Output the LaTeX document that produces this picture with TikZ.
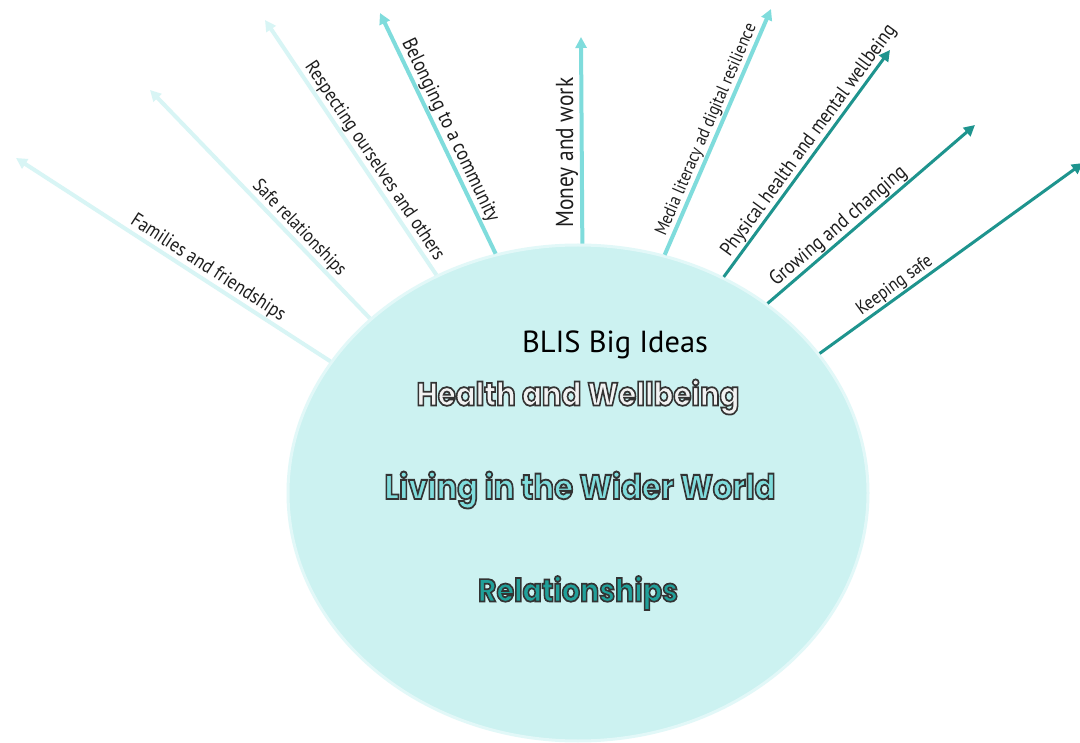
\documentclass[tikz,border=0pt]{standalone}
\usepackage{fontspec}
\setmainfont{PT Sans}
\newfontfamily\headfont{Poppins}
\usetikzlibrary{arrows.meta,shapes.geometric}

\definecolor{bubble}{HTML}{CCF2F1}
\definecolor{bubbleedge}{HTML}{E2F8F8}
\definecolor{pale}{HTML}{D8F5F5}
\definecolor{mid}{HTML}{7FDCDC}
\definecolor{deep}{HTML}{1E948E}
\definecolor{inkgray}{HTML}{1E1E1E}
\definecolor{healthfill}{HTML}{F2F2F2}
\definecolor{livingfill}{HTML}{7FDCDC}
\definecolor{relfill}{HTML}{20A09A}

% label text stretched to a given length along its arrow
\newcommand{\armlabel}[2]{\resizebox{#1pt}{!}{\scalebox{1}[1.15]{#2}}}
% outlined heading (fill plus dark stroke) of a given width
\newcommand{\heading}[3]{\resizebox{#1pt}{!}{\scalebox{1}[1.12]{\textcolor{#2}{\headfont\bfseries\fontsize{28}{32}\selectfont
  \special{pdf:literal direct 0.2 0.2 0.2 RG 1.5 w 2 Tr}#3\special{pdf:literal direct 0 Tr}}}}}

\begin{document}
\begin{tikzpicture}[x=1pt,y=-1pt,
  tip/.style={-{Triangle[length=11pt,width=11pt]}},
  palearm/.style={tip, draw=pale, line width=4pt},
  midarm/.style={tip, draw=mid, line width=4pt},
  deeparm/.style={tip, draw=deep, line width=3pt},
  lbl/.style={sloped, above, inner sep=0.8pt, text=inkgray}]

\useasboundingbox[fill=white] (0,0) rectangle (1080,743);

% central bubble
\node[ellipse, fill=bubble, draw=bubbleedge, line width=3pt,
      minimum width=580pt, minimum height=496pt, inner sep=0pt] (hub) at (578,493) {};

% arrow tips
\coordinate (t1) at (16,158);
\coordinate (t2) at (150,90);
\coordinate (t3) at (265,20);
\coordinate (t4) at (380,13);
\coordinate (t5) at (581,37);
\coordinate (t6) at (771,9);
\coordinate (t7) at (890,50);
\coordinate (t8) at (975,125);
\coordinate (t9) at (1083,163);

% radiating strands
\draw[palearm] (hub.152.9) -- node[lbl,pos=0.41] (l1) {\armlabel{180}{Families and friendships}} (t1);
\draw[palearm] (hub.140.5) -- node[lbl,pos=0.36] (l2) {\armlabel{126}{Safe relationships}} (t2);
\draw[palearm] (hub.123.8) -- node[lbl,pos=0.42] (l3) {\armlabel{235}{Respecting ourselves and others}} (t3);
\draw[midarm]  (hub.109.1) -- node[lbl,pos=0.49] (l4) {\armlabel{201}{Belonging to a community}} (t4);
\draw[midarm]  (hub.89.5)  -- node[pos=0.44, rotate=90, anchor=south, inner sep=1.5pt, text=inkgray] (l5) {\armlabel{150}{Money and work}} (t5);
\draw[midarm]  (hub.70.5)  -- node[lbl,pos=0.49] (l6) {\armlabel{229}{Media literacy ad digital resilience}} (t6);
\draw[deeparm] (hub.56.9)  -- node[lbl,pos=0.57] (l7) {\armlabel{282}{Physical health and mental wellbeing}} (t7);
\draw[deeparm] (hub.45.2)  -- node[lbl,pos=0.38] (l8) {\armlabel{173}{Growing and changing}} (t8);
\draw[deeparm] (hub.30.4)  -- node[lbl,pos=0.31] (l9) {\armlabel{89}{Keeping safe}} (t9);

% headings inside the bubble
\node[text=black] (title) at (615,345) {\resizebox{186pt}{!}{BLIS Big Ideas}};
\node (health) at (578,397) {\heading{323}{healthfill}{Health and Wellbeing}};
\node (living) at (580,490) {\heading{391}{livingfill}{Living in the Wider World}};
\node (rel) at (578,593) {\heading{200}{relfill}{Relationships}};
\end{tikzpicture}
\end{document}
